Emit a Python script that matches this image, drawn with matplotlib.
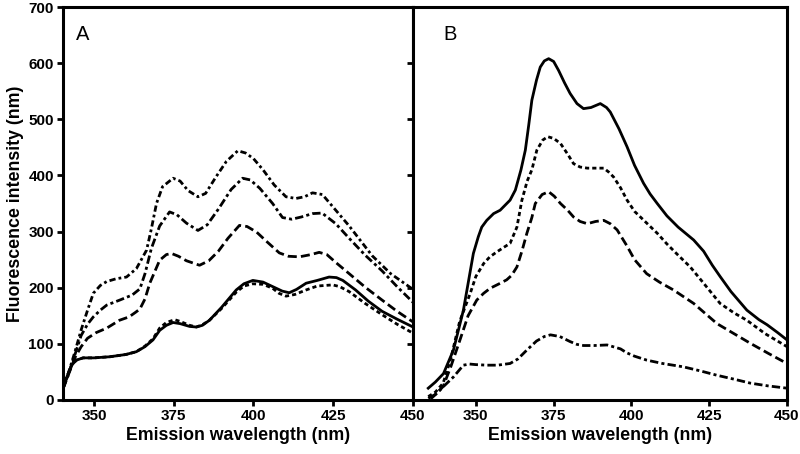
import numpy as np
import matplotlib
matplotlib.use("Agg")
import matplotlib.pyplot as plt

plt.rcParams['font.family'] = ['Liberation Sans', 'DejaVu Sans']
plt.rcParams['lines.scale_dashes'] = False

# ---- panel A (wavelength nm, intensity) ----
a_solid_x = [340.3, 341.5, 343, 344.5, 346.6, 350, 355, 360, 363.3, 366, 368.5, 370.6, 372.7, 374.8,
             377, 380, 382.1, 384, 386.2, 390, 394.6, 397, 399.8, 403, 406, 409, 411.2, 413.5,
             416.5, 420, 423.7, 426, 428, 432, 436, 440.3, 445, 450]
a_solid_y = [21, 41, 62, 71, 75, 75, 77, 81, 86, 95, 107, 124, 133, 138,
             136, 131, 130, 133, 142, 165, 196, 207, 213, 210, 202, 194, 191, 197,
             208, 213, 219, 218, 213, 196, 176, 158, 144, 130]

a_dot_x = [340.3, 341.5, 343, 344.5, 346.6, 350, 355, 360, 363.3, 366, 368.5, 370.6, 372.7, 375.3,
           377, 380, 382.1, 384, 386.2, 390, 394.6, 397, 399.8, 403, 406, 408, 410.2, 413,
           416.5, 420, 424.8, 427, 430, 435, 440.3, 445, 450]
a_dot_y = [21, 41, 62, 71, 75, 75, 77, 81, 86, 96, 109, 128, 138, 143,
           140, 133, 130, 134, 142, 163, 192, 203, 207, 206, 199, 190, 185, 188,
           196, 203, 205, 202, 193, 172, 152, 135, 119]

a_dash_x = [340.3, 342, 344, 346, 348, 350.7, 354, 358, 361, 363, 364.4, 366, 367.5, 370.6, 372.7,
            374.3, 376.5, 379, 383.1, 386, 389, 392, 395.6, 398, 401, 404, 408.1, 411, 414.4,
            418, 420.6, 423, 425.8, 430, 435, 440.3, 445, 450]
a_dash_y = [20, 45, 75, 95, 110, 120, 128, 142, 148, 156, 162, 180, 208, 249, 259,
            261, 256, 248, 240, 248, 265, 288, 311, 309, 299, 283, 262, 256, 255,
            259, 263, 259, 245, 225, 201, 178, 158, 139]

a_dashdot_x = [340.3, 342, 344, 346, 348, 349.8, 352, 354, 358.1, 362, 364.4, 366, 368, 370.6,
               373.7, 376, 379, 382.6, 385.5, 389, 393, 396.6, 399, 402, 406, 409.1, 412, 415,
               418.5, 421.5, 425.8, 430, 435, 440.3, 445, 450]
a_dashdot_y = [20, 45, 80, 115, 135, 148, 160, 169, 178, 187, 198, 225, 270, 310,
               335, 330, 315, 302, 312, 340, 375, 395, 392, 377, 350, 325, 322, 326,
               332, 333, 314, 288, 258, 230, 202, 174]

a_top_x = [340.3, 342, 344, 346, 348, 349.8, 352, 354, 357, 360.2, 363.3, 366.5, 368, 369.6, 371.5,
           374.8, 377, 379.5, 382.6, 385, 388.2, 391.5, 395.1, 397.5, 400, 403, 406.5, 410.2,
           413.3, 416, 418.5, 421.6, 425.8, 430, 437.2, 443, 450]
a_top_y = [20, 48, 85, 125, 160, 190, 204, 211, 216, 219, 234, 267, 305, 350, 380,
           395, 390, 373, 362, 368, 397, 425, 444, 440, 430, 410, 383, 362,
           359, 362, 369, 366, 338, 310, 257, 225, 197]

# ---- panel B ----
b_solid_x = [334.7, 337, 339.6, 342.8, 346, 349.2, 350.8, 351.9, 353.5, 355.7, 357.8, 359.4, 361,
             362.7, 364.5, 365.9, 367, 368, 369.5, 370.7, 372, 373.4, 375, 376.6, 378.5, 380.3,
             382.5, 384.6, 387, 390, 392, 393.2, 396, 398.6, 401, 403.9, 406, 408.3, 411.4, 415,
             420, 423.2, 426, 428.5, 432, 437.1, 441, 443.6, 447, 450]
b_solid_y = [21, 32, 47, 89, 160, 261, 291, 308, 320, 332, 338, 347, 356,
             374, 410, 445, 490, 534, 570, 593, 604, 608, 603, 587, 565, 546,
             528, 519, 521, 528, 521, 513, 483, 451, 418, 386, 367, 350, 328, 308,
             285, 265, 240, 220, 193, 160, 143, 134, 120, 107]

b_dot_x = [334.7, 337, 339.5, 342, 344.8, 348.2, 350, 352.5, 354.5, 356.8, 359, 361, 363.2, 364.8,
           366.5, 368, 369.6, 371.5, 373.1, 375, 377.2, 379.5, 381.4, 383.5, 385.8, 389, 391.1,
           392.7, 394.3, 396.5, 398.6, 401, 404, 408.3, 411.4, 415, 418.9, 423.2, 428.5, 433,
           437.1, 443, 450]
b_dot_y = [6, 14, 30, 75, 140, 190, 220, 243, 255, 264, 272, 279, 308, 356,
           390, 410, 445, 463, 469, 466, 457, 438, 421, 415, 413, 413, 413,
           406, 397, 378, 356, 336, 320, 297, 278, 258, 237, 208, 172, 155,
           142, 118, 95]

b_dash_x = [334.7, 337, 339.5, 342, 344.9, 347.5, 350.3, 352.5, 354.6, 357.5, 359.9, 361.5, 363.2,
            364.8, 366.4, 368, 369.1, 371.3, 373.4, 375.2, 377.2, 379.5, 381.4, 383.5, 385.8,
            388.5, 391.1, 393.2, 395.4, 398.5, 401, 404.9, 409, 413.5, 420, 427.5, 433, 438.2,
            444, 450]
b_dash_y = [3, 10, 24, 60, 107, 150, 178, 190, 199, 207, 214, 222, 237,
            265, 297, 325, 350, 366, 371, 363, 350, 338, 326, 318, 314,
            318, 320, 314, 303, 275, 250, 225, 210, 196, 172, 136, 118, 101,
            83, 65]

b_dashdot_x = [335.5, 337.5, 339.6, 342.8, 346, 348, 350, 353.5, 357, 361, 363.5, 366.4, 369.5,
               372, 374, 377, 380.3, 382.5, 384.6, 388, 392.2, 396.5, 398.5, 401, 404.9, 410,
               416.7, 422, 427.5, 433, 438.2, 444, 450]
b_dashdot_y = [2, 12, 24, 41, 62, 64, 63, 62, 62, 65, 73, 89, 105,
               113, 116, 113, 104, 99, 97, 97, 98, 91, 84, 78, 71, 65,
               59, 52, 44, 37, 30, 25, 21]

fig = plt.figure(figsize=(8, 4.54), dpi=100)
ax1 = fig.add_axes([0.07875, 0.119, 0.4375, 0.8655])
ax2 = fig.add_axes([0.51625, 0.119, 0.4675, 0.8655])

lw = 2.0
long_dash = (0, (6.5, 3))
short_dash = (0, (3, 2.2))
dash_dot = (0, (6, 2.3, 2.2, 2.3))
dash_dot2 = (0, (4.5, 2.2, 2, 2.2))

ax1.plot(a_solid_x, a_solid_y, '-', color='k', lw=lw)
ax1.plot(a_dot_x, a_dot_y, color='k', lw=lw, linestyle=short_dash)
ax1.plot(a_dash_x, a_dash_y, color='k', lw=lw, linestyle=long_dash)
ax1.plot(a_dashdot_x, a_dashdot_y, color='k', lw=lw, linestyle=dash_dot)
ax1.plot(a_top_x, a_top_y, color='k', lw=lw, linestyle=dash_dot2)

ax2.plot(b_solid_x, b_solid_y, '-', color='k', lw=lw)
ax2.plot(b_dot_x, b_dot_y, color='k', lw=lw, linestyle=short_dash)
ax2.plot(b_dash_x, b_dash_y, color='k', lw=lw, linestyle=long_dash)
ax2.plot(b_dashdot_x, b_dashdot_y, color='k', lw=lw, linestyle=dash_dot)

ax1.set_xlim(340.3, 450)
ax2.set_xlim(329.8, 450)
for ax in (ax1, ax2):
    ax.set_ylim(0, 700)
    ax.set_xticks([350, 375, 400, 425, 450])
    ax.set_yticks(np.arange(0, 701, 100))
    for s in ax.spines.values():
        s.set_linewidth(2.2)
    ax.tick_params(direction='out', length=4.5, width=2, labelsize=11, pad=2)
    for lab in ax.get_xticklabels() + ax.get_yticklabels():
        lab.set_fontweight('bold')
    ax.set_xlabel('Emission wavelength (nm)', fontsize=12.8, fontweight='bold', labelpad=3)

ax2.tick_params(labelleft=False)
ax1.set_ylabel('Fluorescence intensity (nm)', fontsize=12.8, fontweight='bold', labelpad=3)

ax1.text(0.057, 0.93, 'A', transform=ax1.transAxes, fontsize=14.5, ha='center', va='center')
ax2.text(0.098, 0.93, 'B', transform=ax2.transAxes, fontsize=14.5, ha='center', va='center')

fig.savefig('out.png', dpi=100)
